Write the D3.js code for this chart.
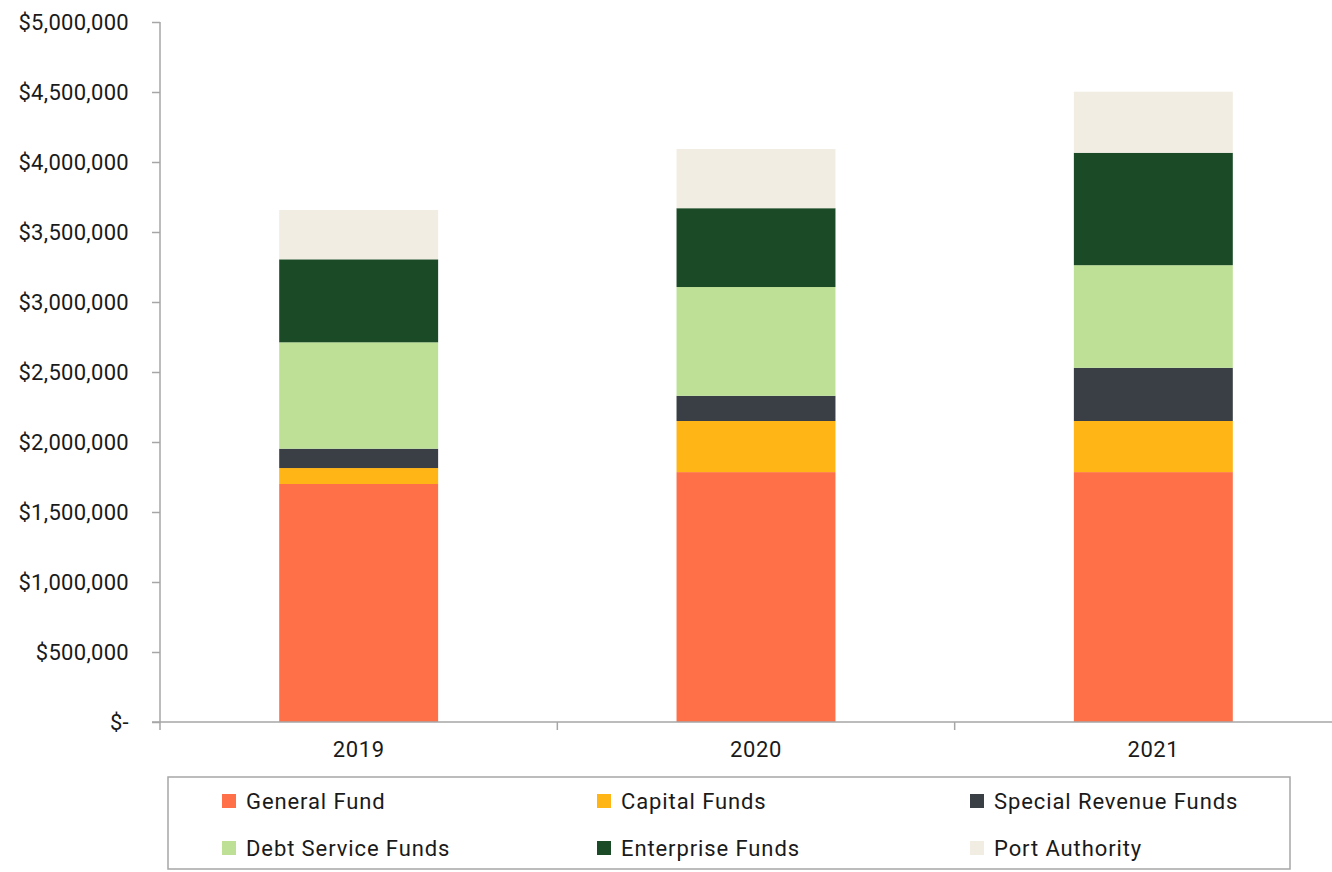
<!DOCTYPE html>
<html>
<head>
<meta charset="utf-8">
<script src="https://cdn.jsdelivr.net/npm/d3@7"></script>
<style>
  body { margin: 0; background: #fff; }
  svg { display: block; }
  svg text { font-family: Roboto, "Noto Sans", sans-serif; }
</style>
</head>
<body>
<svg width="1332" height="872"></svg>
<script>
// data
var years = ["2019", "2020", "2021"];
var seriesNames = ["General Fund", "Capital Funds", "Special Revenue Funds", "Debt Service Funds", "Enterprise Funds", "Port Authority"];
var generalFund = [1700000, 1785000, 1785000];
var capitalFunds = [114000, 365000, 365000];
var specialRevenue = [138000, 180000, 380000];
var debtService = [760000, 777000, 733000];
var enterpriseFunds = [593000, 563000, 803000];
var portAuthority = [352000, 423000, 436000];
var yTicks = [0, 500000, 1000000, 1500000, 2000000, 2500000, 3000000, 3500000, 4000000, 4500000, 5000000];
var colors = ["#ff7049", "#ffb515", "#393f44", "#bde096", "#1b4b26", "#f2ede3"];

var allSeries = [generalFund, capitalFunds, specialRevenue, debtService, enterpriseFunds, portAuthority];

// tabel voor d3.stack
var rows = years.map(function(y, i) {
  var r = {year: y};
  seriesNames.forEach(function(n, j) { r[n] = allSeries[j][i]; });
  return r;
});

var svg = d3.select("svg"),
    margin = {top: 22, left: 160},
    width = 1192,
    height = 700;

var x = d3.scaleBand().domain(years).range([0, width]).paddingInner(0).paddingOuter(0);
var y = d3.scaleLinear().domain([0, 5000000]).range([height, 0]);

var g = svg.append("g").attr("transform", "translate(" + margin.left + "," + margin.top + ")");

var stack = d3.stack().keys(seriesNames)(rows);

var barW = x.bandwidth() * 0.4;

g.selectAll(".layer")
  .data(stack)
  .enter().append("g")
    .attr("class", "layer")
    .attr("fill", function(d, i) { return colors[i]; })
  .selectAll("rect")
  .data(function(d) { return d; })
  .enter().append("rect")
    .attr("x", function(d) { return x(d.data.year) + (x.bandwidth() - barW) / 2; })
    .attr("y", function(d) { return y(d[1]); })
    .attr("width", barW)
    .attr("height", function(d) { return y(d[0]) - y(d[1]); });

var axisColor = "#a6a6a6";
var textColor = "#1a1a1a";

// y as
var yAxis = g.append("g")
  .call(d3.axisLeft(y).tickValues(yTicks).tickSize(8).tickPadding(23)
    .tickFormat(function(d) { return d === 0 ? "$-" : "$" + d3.format(",")(d); }));
yAxis.attr("font-family", null).attr("font-size", null);
yAxis.select(".domain").attr("stroke", axisColor).attr("stroke-width", 1.5).attr("d", "M0,0V" + height);
yAxis.selectAll(".tick line").attr("stroke", axisColor).attr("stroke-width", 1.5);
yAxis.selectAll("text").attr("fill", textColor).style("font-size", "22px").style("letter-spacing", "0.3px");

// x as
var xAxis = g.append("g").attr("transform", "translate(0," + height + ")")
  .call(d3.axisBottom(x).tickSize(0).tickPadding(19));
xAxis.attr("font-family", null).attr("font-size", null);
xAxis.select(".domain").remove();
xAxis.selectAll("text").attr("fill", textColor).style("font-size", "22px").style("letter-spacing", "0.6px");
g.append("line")
  .attr("x1", -8).attr("x2", width).attr("y1", height).attr("y2", height)
  .attr("stroke", axisColor).attr("stroke-width", 1.5);
g.selectAll(".xsep")
  .data(years)
  .enter().append("line")
    .attr("class", "xsep")
    .attr("x1", function(d) { return x(d); })
    .attr("x2", function(d) { return x(d); })
    .attr("y1", height).attr("y2", height + 8)
    .attr("stroke", axisColor).attr("stroke-width", 1.5);

// legenda
var legend = svg.append("g").attr("transform", "translate(168,777)");
legend.append("rect")
  .attr("width", 1122).attr("height", 92)
  .attr("fill", "none").attr("stroke", axisColor).attr("stroke-width", 1.5);

var colX = [54, 429, 802];
var rowY = [24, 71];
var item = legend.selectAll(".item")
  .data(seriesNames)
  .enter().append("g")
    .attr("class", "item")
    .attr("transform", function(d, i) { return "translate(" + colX[i % 3] + "," + rowY[Math.floor(i / 3)] + ")"; });
item.append("rect")
  .attr("x", 0).attr("y", -7).attr("width", 14).attr("height", 14)
  .attr("fill", function(d, i) { return colors[i]; });
item.append("text")
  .attr("x", 24).attr("y", 0).attr("dy", "0.35em")
  .attr("fill", textColor).style("font-size", "22px").style("letter-spacing", "0.9px")
  .text(function(d) { return d; });
</script>
</body>
</html>
